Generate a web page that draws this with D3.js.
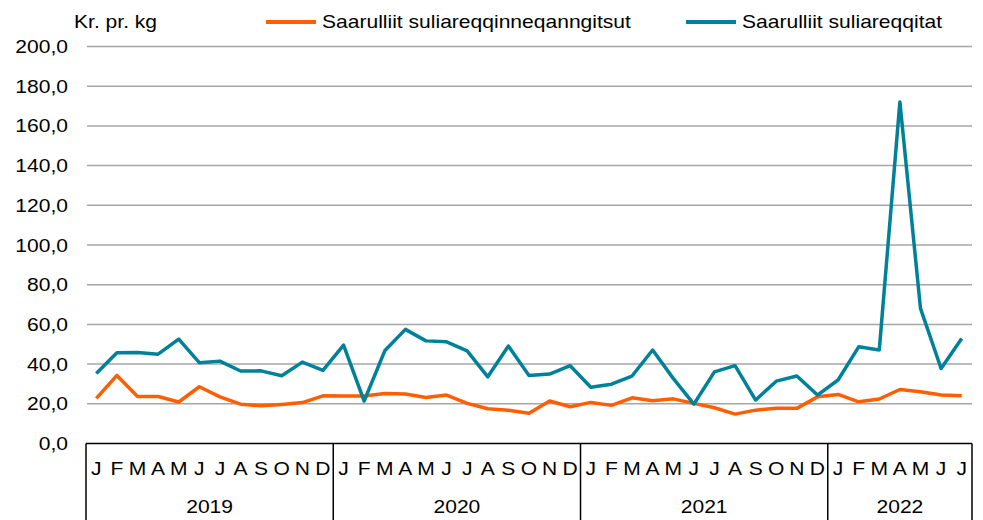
<!DOCTYPE html>
<html>
<head>
<meta charset="utf-8">
<script src="https://cdn.jsdelivr.net/npm/d3@7"></script>
<style>
  html, body { margin: 0; padding: 0; background: #fff; }
  svg text { font-family: "Liberation Sans", Arial, sans-serif; fill: #000; }
</style>
</head>
<body>
<svg id="chart" width="983" height="520"></svg>
<script>
// months Jan 2019 .. Jul 2022
const years = [
  {label: "2019", n: 12},
  {label: "2020", n: 12},
  {label: "2021", n: 12},
  {label: "2022", n: 7}
];
const monthLetters = ["J","F","M","A","M","J","J","A","S","O","N","D"];

const seriesNames = ["Saarulliit suliareqqinneqanngitsut", "Saarulliit suliareqqitat"];
const seriesColors = ["#ff5f00", "#00819a"];

// Kr. pr. kg
const unprocessed = [
  22.7, 34.3, 23.7, 23.7, 20.9, 28.6, 23.5, 19.8, 19.0, 19.7, 20.6, 24.0,
  23.9, 23.9, 25.2, 24.9, 23.2, 24.4, 20.2, 17.5, 16.7, 15.2, 21.4, 18.5,
  20.7, 19.2, 23.0, 21.5, 22.5, 20.2, 18.0, 14.8, 16.8, 17.8, 17.7, 23.5,
  24.7, 21.0, 22.4, 27.2, 26.1, 24.4, 24.0
];
const processed = [
  35.3, 45.7, 45.9, 45.0, 52.6, 40.7, 41.5, 36.5, 36.6, 34.1, 41.0, 36.8,
  49.6, 21.4, 46.7, 57.5, 51.7, 51.2, 46.7, 33.6, 49.1, 34.3, 35.0, 39.2,
  28.3, 29.9, 34.0, 47.1, 32.8, 19.8, 36.1, 39.2, 21.9, 31.4, 34.0, 24.4,
  32.0, 48.7, 47.1, 172.1, 68.1, 37.8, 52.9
];
const yTicks = [0, 20, 40, 60, 80, 100, 120, 140, 160, 180, 200];

const svg = d3.select("#chart");
const plotLeft = 86, plotRight = 972, plotTop = 46.5, plotBottom = 443.5;
const stretch = 1.17; // text in the reference is a bit wide

// month index list
const months = [];
years.forEach(yr => { for (let i = 0; i < yr.n; i++) months.push({year: yr.label, m: monthLetters[i]}); });
const idx = months.map((d, i) => i);

const x = d3.scaleBand().domain(idx).range([plotLeft, plotRight]).paddingInner(0).paddingOuter(0);
const y = d3.scaleLinear().domain([0, 200]).range([plotBottom, plotTop]);

function wideText(g, tx, ty, str, anchor, size) {
  return g.append("g")
    .attr("transform", `translate(${tx},${ty}) scale(${stretch},1)`)
    .append("text")
    .attr("text-anchor", anchor)
    .attr("font-size", size)
    .text(str);
}

// gridlines
svg.append("g")
  .selectAll("line")
  .data(yTicks.filter(t => t > 0))
  .enter().append("line")
  .attr("x1", plotLeft + 1).attr("x2", plotRight)
  .attr("y1", d => y(d)).attr("y2", d => y(d))
  .attr("stroke", "#a6a6a6").attr("stroke-width", 1.5);

// y labels
const yl = svg.append("g");
yTicks.forEach(t => {
  wideText(yl, 68, y(t) + 6.5, d3.format(".1f")(t).replace(".", ","), "end", 18);
});

// category axis box
const ax = svg.append("g").attr("stroke", "#000").attr("stroke-width", 1.5);
ax.append("line").attr("x1", plotLeft).attr("x2", plotRight).attr("y1", plotBottom).attr("y2", plotBottom);
let start = 0;
const bounds = [0];
years.forEach(yr => { start += yr.n; bounds.push(start); });
bounds.forEach(b => {
  const bx = b < months.length ? x(b) : plotRight;
  ax.append("line").attr("x1", bx).attr("x2", bx).attr("y1", plotBottom).attr("y2", 520);
});

const ml = svg.append("g");
months.forEach((d, i) => {
  wideText(ml, x(i) + x.bandwidth() / 2, 475, d.m, "middle", 18);
});
const yrl = svg.append("g");
start = 0;
years.forEach(yr => {
  const x0 = x(start);
  const x1 = start + yr.n < months.length ? x(start + yr.n) : plotRight;
  wideText(yrl, (x0 + x1) / 2, 513, yr.label, "middle", 18);
  start += yr.n;
});

// lines
const line = d3.line()
  .x((d, i) => x(i) + x.bandwidth() / 2)
  .y(d => y(d));

[unprocessed, processed].forEach((vals, k) => {
  svg.append("path")
    .datum(vals)
    .attr("fill", "none")
    .attr("stroke", seriesColors[k])
    .attr("stroke-width", 3.5)
    .attr("stroke-linejoin", "round")
    .attr("d", line);
});

// unit + legend
wideText(svg, 74, 28, "Kr. pr. kg", "start", 18);
const legendX = [266, 686];
seriesNames.forEach((name, k) => {
  svg.append("line")
    .attr("x1", legendX[k]).attr("x2", legendX[k] + 50)
    .attr("y1", 22).attr("y2", 22)
    .attr("stroke", seriesColors[k]).attr("stroke-width", 4);
  wideText(svg, legendX[k] + 56, 28, name, "start", 18);
});
</script>
</body>
</html>
